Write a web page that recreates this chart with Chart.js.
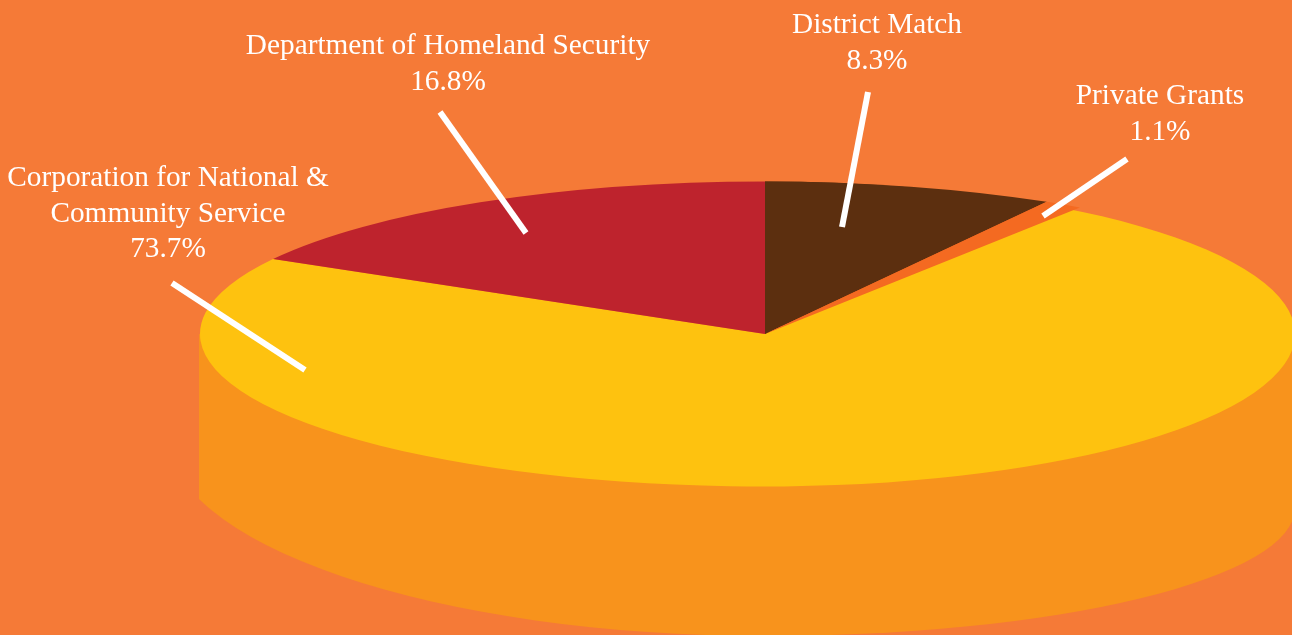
<!DOCTYPE html>
<html>
<head>
<meta charset="utf-8">
<title>Funding sources</title>
<style>
  html, body { margin: 0; padding: 0; background: #f57a37; overflow: hidden; }
  canvas { display: block; }
</style>
</head>
<body>
<canvas id="pie" width="1292" height="635"></canvas>
<script src="https://cdn.jsdelivr.net/npm/chart.js@4/dist/chart.umd.min.js"></script>
<script>
const categories = ['District Match', 'Private Grants', 'Corporation for National & Community Service', 'Department of Homeland Security'];
const shares = [8.3, 1.1, 73.7, 16.8];
const labelLines = [['District Match'], ['Private Grants'], ['Corporation for National &', 'Community Service'], ['Department of Homeland Security']];

const sliceColors = ['#5c2f0f', '#f46a21', '#fec20f', '#be232d'];
const sideColor = '#f8931c';

// label anchors and leader ends, [x, y] on the page
const labelPos = [[877, 33], [1160, 104], [168, 186], [448, 54]];
const leaders = [[[868, 92], [842, 227]], [[1127, 159], [1043, 216]], [[172, 283], [305, 370]], [[440, 112], [526, 233]]];

const radius = 565;
const rightRadius = 530;
const flatRadius = 152.5;
const lineHeight = 35.5;

// lower rim of the drum, the two sides have different curves
const rimLeft = { dy: 97, rx: 600, ry: 205, edge: 199 };
const rimRight = { dy: 174, rx: 530, ry: 128 };

function drawSide(ctx, cx, cy) {
  ctx.save();
  ctx.beginPath();
  ctx.rect(rimLeft.edge, 0, 1292 - rimLeft.edge, 635);
  ctx.clip();
  ctx.fillStyle = sideColor;
  ctx.beginPath();
  ctx.moveTo(cx + rimRight.rx, cy);
  ctx.ellipse(cx, cy + rimRight.dy, rimRight.rx, rimRight.ry, 0, 0, Math.PI / 2);
  ctx.ellipse(cx, cy + rimLeft.dy, rimLeft.rx, rimLeft.ry, 0, Math.PI / 2, Math.PI);
  ctx.lineTo(cx - rimLeft.rx, cy);
  ctx.closePath();
  ctx.fill();
  ctx.restore();
}

// the top face is not centred on the apex, so each half gets its own squash
function drawHalf(ctx, arcs, left, right, rx) {
  const cx = arcs[0].x;
  const cy = arcs[0].y;
  ctx.save();
  ctx.beginPath();
  ctx.rect(left, 0, right - left, 635);
  ctx.clip();
  ctx.translate(cx, cy);
  ctx.scale(rx / radius, flatRadius / radius);
  ctx.translate(-cx, -cy);
  arcs.forEach(arc => arc.draw(ctx));
  ctx.restore();
}

const squashedPie = {
  id: 'squashedPie',
  beforeDatasetsDraw(chart) {
    const ctx = chart.ctx;
    const arcs = chart.getDatasetMeta(0).data;
    const cx = arcs[0].x;
    drawSide(ctx, cx, arcs[0].y);
    drawHalf(ctx, arcs, 0, cx, radius);
    drawHalf(ctx, arcs, cx, 1292, rightRadius);
    // the two small slices sit on the wider part of the back edge
    drawHalf(ctx, arcs.slice(0, 2), cx, 1292, radius);
    return false;
  }
};

const calloutLabels = {
  id: 'calloutLabels',
  afterDraw(chart) {
    const ctx = chart.ctx;
    ctx.save();
    ctx.strokeStyle = '#ffffff';
    ctx.lineWidth = 6;
    leaders.forEach(([a, b]) => {
      ctx.beginPath();
      ctx.moveTo(a[0], a[1]);
      ctx.lineTo(b[0], b[1]);
      ctx.stroke();
    });
    ctx.fillStyle = '#ffffff';
    ctx.font = '29.3px "Liberation Serif"';
    ctx.textAlign = 'center';
    ctx.textBaseline = 'alphabetic';
    labelLines.forEach((lines, i) => {
      const [x, y] = labelPos[i];
      lines.concat(shares[i].toFixed(1) + '%').forEach((line, j) => {
        ctx.fillText(line, x, y + j * lineHeight);
      });
    });
    ctx.restore();
  }
};

new Chart(document.getElementById('pie'), {
  type: 'pie',
  data: {
    labels: categories,
    datasets: [{
      data: shares,
      backgroundColor: sliceColors,
      borderWidth: 0,
      clip: false
    }]
  },
  options: {
    responsive: false,
    animation: false,
    radius: radius,
    layout: { padding: { left: 238, top: 33 } },
    plugins: {
      legend: { display: false },
      tooltip: { enabled: false }
    }
  },
  plugins: [squashedPie, calloutLabels]
});
</script>
</body>
</html>
